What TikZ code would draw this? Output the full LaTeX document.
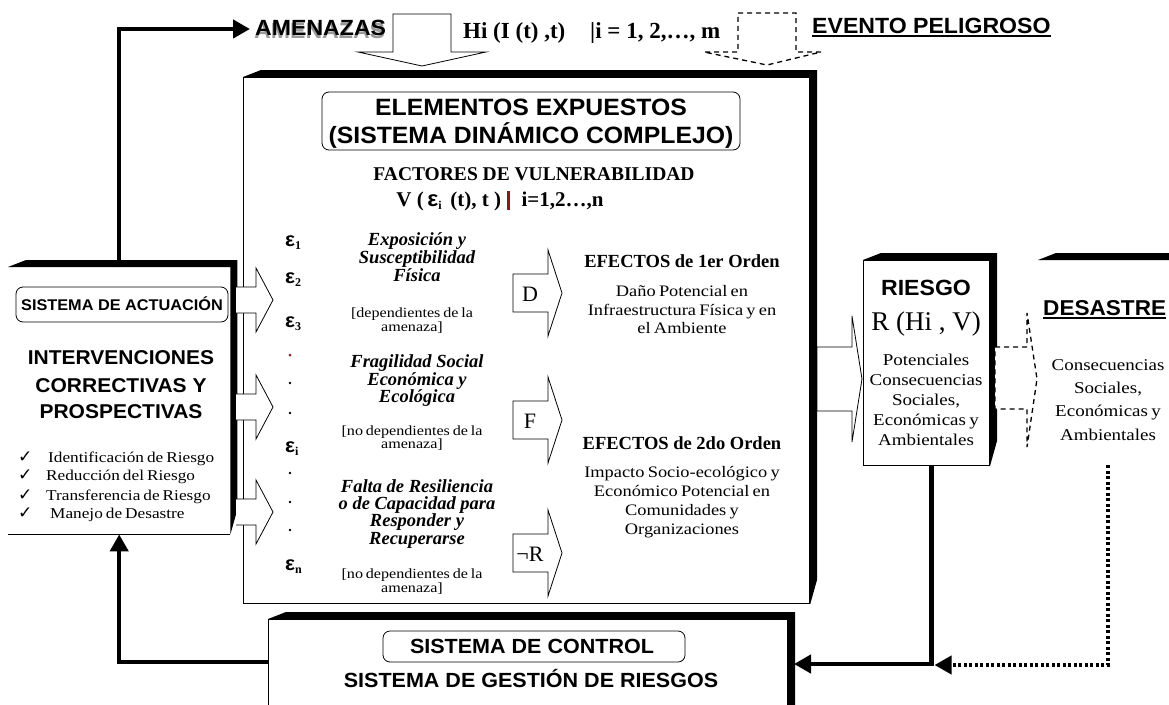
\documentclass[tikz,border=0pt]{standalone}
\usepackage{fontspec}
\setmainfont{Liberation Serif}
\setsansfont{Liberation Sans}[FakeStretch=1.05]
\newfontfamily\rs{Liberation Serif}[FakeStretch=1.15,WordSpace=0.7]
\newfontfamily\dv{DejaVu Sans}
\usetikzlibrary{arrows.meta,calc}
\definecolor{barred}{RGB}{150,20,20}
\newcommand\fs[1]{\fontsize{#1}{#1}\selectfont}
\newcommand\epsl[1]{{\sffamily\bfseries\fs{20}ε}\raisebox{-3pt}{\bfseries\fs{12}#1}}
\newcommand\boxshd[1]{\fill (#1.north west) -- ($(#1.north west)+(18,-7)$) -- ($(#1.north east)+(7,-7)$) -- ($(#1.south east)+(7,-25)$) -- (#1.south east) -- (#1.north east) -- cycle;}
\begin{document}
\begin{tikzpicture}[x=1pt,y=-1pt,
  txt/.style={inner sep=0pt, anchor=base},
  conn/.style={line width=4.5pt, -{Triangle[length=17pt,width=18pt]}},
  dotconn/.style={line width=4pt, dash pattern=on 3pt off 2.5pt, -{Triangle[length=17pt,width=18pt]}},
  blk/.style={fill=white, draw=black, line width=0.8pt},
  dblk/.style={fill=white, draw=black, line width=1.3pt, dash pattern=on 5pt off 4pt},
  plainbox/.style={inner sep=0pt, anchor=north west},
  rbox/.style={draw, line width=0.8pt, rounded corners=7pt, inner sep=0pt}]
\useasboundingbox[fill=white] (0,0) rectangle (1169,704);
\clip (0,0) rectangle (1169,704);

% ---------- boxes ----------
\node[plainbox, draw, fill=white, line width=1.2pt, minimum width=566pt, minimum height=526pt] (central) at (243,77) {};
\boxshd{central}
\node[plainbox, minimum width=222pt, minimum height=267pt] (leftbox) at (8,267) {};
\boxshd{leftbox}
\draw[line width=0.8pt] (leftbox.south west) -- (leftbox.south east);
\node[plainbox, draw, fill=white, line width=1pt, minimum width=126pt, minimum height=205pt] (riesgo) at (863,260) {};
\boxshd{riesgo}
\node[plainbox, minimum width=140pt, minimum height=205pt] (desastre) at (1038,260) {};
\fill (desastre.north west) -- ($(desastre.north west)+(18,-7)$) -- ($(desastre.north east)+(7,-7)$) -- (desastre.north east) -- cycle;
\node[plainbox, draw, fill=white, line width=1pt, minimum width=519pt, minimum height=110pt] (control) at (268,619) {};
\boxshd{control}

% ---------- rounded label boxes ----------
\node[rbox, minimum width=418pt, minimum height=58pt] (titlebox) at (531,121) {};
\node[rbox, minimum width=212pt, minimum height=35pt] (actbox) at (122,304.5) {};
\node[rbox, minimum width=302pt, minimum height=31pt] (ctrlbox) at (534,646.5) {};

% ---------- block arrows ----------
\foreach \yc in {300,407,512}{
  \filldraw[blk] (236,\yc-13) -- (256,\yc-13) -- (256,\yc-32) -- (273,\yc) -- (256,\yc+32) -- (256,\yc+13) -- (236,\yc+13);
}
\foreach \yc/\lbl in {293/D,420/F,553/¬R}{
  \filldraw[blk] (513,\yc-19) -- (548,\yc-19) -- (548,\yc-43) -- (562,\yc) -- (548,\yc+43) -- (548,\yc+19) -- (513,\yc+19) -- cycle;
  \node[txt, font=\fs{22}] (lab\yc) at (530,\yc+8) {\lbl};
}
\filldraw[blk] (817,347) -- (852,347) -- (852,316) -- (862,379) -- (852,442) -- (852,411) -- (817,411) -- cycle;
\filldraw[dblk] (995,347) -- (1027,347) -- (1027,313) -- (1037,379) -- (1027,447) -- (1027,409) -- (995,409) -- cycle;
\filldraw[blk] (393,14) -- (451,14) -- (451,52) -- (486,52) -- (422,66) -- (358,52) -- (393,52) -- cycle;
\filldraw[dblk] (738,13) -- (796,13) -- (796,52) -- (821,52) -- (767,65) -- (704,52) -- (738,52) -- cycle;

% ---------- connectors ----------
\coordinate (amentip) at (250,29);
\draw[conn] (leftbox.north) |- (amentip);
\draw[conn] ($(control.north west)+(0,43)$) -| (leftbox.south);
\coordinate (junc) at ($(riesgo.south)+(5,199)$);
\draw[conn] ([xshift=5pt]riesgo.south) |- ($(control.north east)+(6,45)$);
\draw[dotconn] (desastre.south) |- ($(junc)+(3,0)$);

% ---------- top texts ----------
\node[txt, anchor=base west, font=\sffamily\bfseries\fs{22}] (amen) at (255,35) {\rlap{\hspace{-1pt}\raisebox{-3pt}{\color{black!40}AMENAZAS}}AMENAZAS};
\node[txt, anchor=base west, font=\bfseries\fs{23}] (hi) at (463,38) {Hi (I (t) ,t)};
\node[txt, anchor=base west, font=\bfseries\fs{23}] (hiidx) at (590,38) {|i = 1, 2,…, m};
\node[txt, anchor=base west, font=\sffamily\bfseries\fs{22}] (evento) at (812,33) {EVENTO PELIGROSO};
\draw[line width=2pt] ([yshift=-3pt]evento.base west) -- ([yshift=-3pt]evento.base east);

% ---------- central box texts ----------
\node[txt, font=\sffamily\bfseries\fs{23.6}] (el1) at (531,115) {ELEMENTOS EXPUESTOS};
\node[txt, font=\sffamily\bfseries\fs{23.6}] (el2) at (531,143) {(SISTEMA DINÁMICO COMPLEJO)};
\node[txt, font=\bfseries\fs{19.5}] (fact) at (534,180) {FACTORES DE VULNERABILIDAD};
\node[txt, font=\bfseries\fs{21}] (vline) at (500,206) {V (\,{\sffamily\fs{22}ε}\raisebox{-3pt}{\fs{12}i}\, (t), t )\;\textcolor{barred}{\rule[-4pt]{3.5pt}{19pt}}\; i=1,2…,n};

\foreach \yy/\s [count=\k] in {246/1,283/2,327/3,452/i,570/n}{
  \node[txt, anchor=base west] (eps\k) at (285,\yy) {\epsl{\s}};
}
\fill[barred] (290,355) circle (1.5);
\foreach \yy in {383,413,473,502,530}{ \fill (290,\yy) circle (1.4); }

\foreach \yy/\t [count=\k] in {245/Exposición y,263/Susceptibilidad,281/Física,367/Fragilidad Social,385/Económica y,402/Ecológica,492/Falta de Resiliencia,509/o de Capacidad para,526/Responder y,544/Recuperarse}{
  \node[txt, font=\bfseries\itshape\fs{18.5}] (fac\k) at (417,\yy) {\t};
}
\foreach \yy/\t [count=\k] in {317/[dependientes de la,331/amenaza],435/[no dependientes de la,448/amenaza],578/[no dependientes de la,592/amenaza]}{
  \node[txt, font=\rs\fs{14}] (dep\k) at (412,\yy) {\t};
}
\node[txt, font=\bfseries\fs{18.5}] (ef1) at (682,267) {EFECTOS de 1er Orden};
\foreach \yy/\t [count=\k] in {296/Daño Potencial en,315/Infraestructura Física y en,333/el Ambiente}{
  \node[txt, font=\rs\fs{16}] (efa\k) at (682,\yy) {\t};
}
\node[txt, font=\bfseries\fs{18.5}] (ef2) at (682,449) {EFECTOS de 2do Orden};
\foreach \yy/\t [count=\k] in {477/Impacto Socio-ecológico y,496/Económico Potencial en,515/Comunidades y,534/Organizaciones}{
  \node[txt, font=\rs\fs{16}] (efb\k) at (682,\yy) {\t};
}

% ---------- riesgo / desastre ----------
\node[txt, font=\sffamily\bfseries\fs{22}] (rtit) at (926,295) {RIESGO};
\node[txt, font=\fs{27}] (rform) at (926,330) {R (Hi , V)};
\foreach \yy/\t [count=\k] in {365/Potenciales,385/Consecuencias,405/{Sociales,},425/Económicas y,445/Ambientales}{
  \node[txt, font=\rs\fs{16.5}] (rd\k) at (926,\yy) {\t};
}
\node[txt, anchor=base west, font=\sffamily\bfseries\fs{21.5}] (dtit) at (1043,315) {DESASTRE};
\draw[line width=2pt] ([yshift=-3pt]dtit.base west) -- ([yshift=-3pt]dtit.base east);
\foreach \yy/\t [count=\k] in {370/Consecuencias,393/{Sociales,},416/Económicas y,440/Ambientales}{
  \node[txt, font=\rs\fs{16.5}] (dd\k) at (1108,\yy) {\t};
}

% ---------- left box texts ----------
\node[txt, font=\sffamily\bfseries\fs{15.5}] (act) at (122,310) {SISTEMA DE ACTUACIÓN};
\node[txt, font=\sffamily\bfseries\fs{20}] (iv1) at (121,364) {INTERVENCIONES};
\node[txt, font=\sffamily\bfseries\fs{20}] (iv2) at (121,392) {CORRECTIVAS Y};
\node[txt, font=\sffamily\bfseries\fs{20}] (iv3) at (121,418) {PROSPECTIVAS};
\foreach \yy/\xx/\itm [count=\k] in {462/48/Identificación de Riesgo,480/46/Reducción del Riesgo,500/46/Transferencia de Riesgo,518/50/Manejo de Desastre}{
  \node[txt, anchor=base west, font=\dv\fs{17}] (chk\k) at (18,\yy) {✓};
  \node[txt, anchor=base west, font=\rs\fs{15}] (itm\k) at (\xx,\yy) {\itm};
}

% ---------- control box texts ----------
\node[txt, font=\sffamily\bfseries\fs{20.5}] (ctl) at (532,653) {SISTEMA DE CONTROL};
\node[txt, font=\sffamily\bfseries\fs{20.5}] (ges) at (531,687) {SISTEMA DE GESTIÓN DE RIESGOS};
\end{tikzpicture}
\end{document}
